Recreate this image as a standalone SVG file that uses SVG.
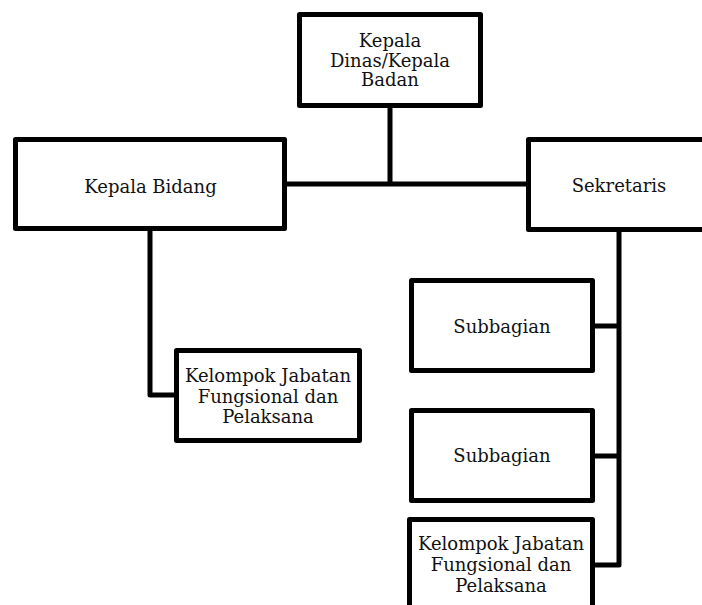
<svg xmlns="http://www.w3.org/2000/svg" width="702" height="605" viewBox="0 0 702 605">
  <style>
    .box { fill: #ffffff; stroke: #000000; stroke-width: 5; stroke-linejoin: round; }
    .link { fill: none; stroke: #000000; stroke-width: 5; stroke-linejoin: round; }
    .label { font-family: "DejaVu Serif", "Liberation Serif", serif; font-size: 18px; fill: #111111; text-anchor: middle; }
  </style>
  <rect width="702" height="605" fill="#ffffff"/>

  <!-- connectors -->
  <g id="connectors">
    <path class="link" d="M390 105 V184"/>
    <path class="link" d="M284 184 H529"/>
    <path class="link" d="M150 229 V395 H177"/>
    <path class="link" d="M619 230 V565 H593"/>
    <path class="link" d="M593 326 H619"/>
    <path class="link" d="M593 456 H619"/>
  </g>

  <g id="kepala-dinas">
    <rect class="box" x="299.5" y="14.5" width="181" height="91"/>
    <text class="label" x="390" y="47">Kepala</text>
    <text class="label" x="390" y="66.5">Dinas/Kepala</text>
    <text class="label" x="390" y="86">Badan</text>
  </g>

  <g id="kepala-bidang">
    <rect class="box" x="15.5" y="139.5" width="269" height="89"/>
    <text class="label" x="150.5" y="193">Kepala Bidang</text>
  </g>

  <g id="sekretaris">
    <rect class="box" x="528.5" y="139.5" width="185" height="90"/>
    <text class="label" x="619" y="192">Sekretaris</text>
  </g>

  <g id="kelompok-bidang">
    <rect class="box" x="176.5" y="350.5" width="183" height="90"/>
    <text class="label" x="268" y="382">Kelompok Jabatan</text>
    <text class="label" x="268" y="402.5">Fungsional dan</text>
    <text class="label" x="268" y="423">Pelaksana</text>
  </g>

  <g id="subbagian-1">
    <rect class="box" x="411.5" y="280.5" width="181" height="90"/>
    <text class="label" x="502" y="333">Subbagian</text>
  </g>

  <g id="subbagian-2">
    <rect class="box" x="411.5" y="410.5" width="181" height="90"/>
    <text class="label" x="502" y="462">Subbagian</text>
  </g>

  <g id="kelompok-sekretariat">
    <rect class="box" x="409.5" y="519.5" width="183" height="95"/>
    <text class="label" x="501" y="550">Kelompok Jabatan</text>
    <text class="label" x="501" y="571">Fungsional dan</text>
    <text class="label" x="501" y="592">Pelaksana</text>
  </g>
</svg>
